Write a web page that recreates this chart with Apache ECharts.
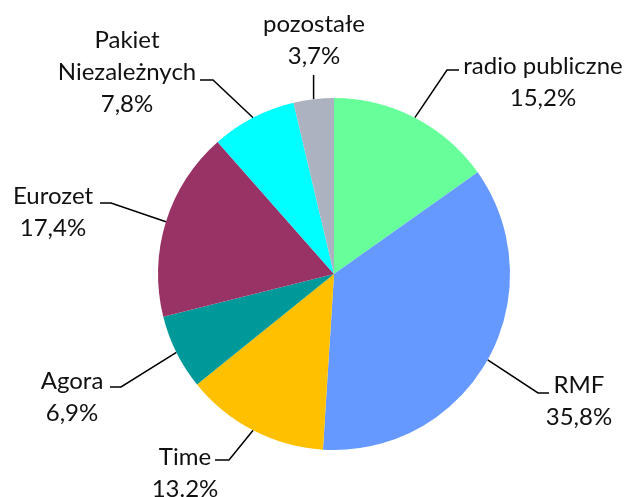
<!DOCTYPE html>
<html lang="pl">

<head>
  <meta charset="UTF-8">
  <title>pie</title>
  <script src="https://cdn.jsdelivr.net/npm/echarts@6/dist/echarts.min.js"></script>
  <style>
    * {
      padding: 0;
      margin: 0;
    }

    #box {
      width: 628px;
      height: 497px;
      background: #fff;
    }
  </style>
</head>

<body>
  <div id="box"></div>
  <script>
    // dane z wykresu
    var categories = ['radio publiczne', 'RMF', 'Time', 'Agora', 'Eurozet', 'Pakiet Niezależnych', 'pozostałe']
    var shares = [15.2, 35.8, 13.2, 6.9, 17.4, 7.8, 3.7]
    var shareLabels = ['15,2%', '35,8%', '13.2%', '6,9%', '17,4%', '7,8%', '3,7%']
    var colors = ['#66FF99', '#6699FF', '#FFC000', '#009999', '#993366', '#00FFFF', '#ADB2C0']

    // gdzie stoją podpisy: środek tekstu, góra bloku, koniec linii
    var spots = [
      { x: 543, y: 50, end: [459, 70], dx: -12 },
      { x: 579, y: 369, end: [549, 393], dx: -11 },
      { x: 185, y: 441, end: [215, 460], dx: 14 },
      { x: 72, y: 365, end: [110, 387], dx: 11 },
      { x: 53, y: 180, end: [100, 203], dx: 11 },
      { x: 127, y: 24, end: [200, 80], dx: 13 },
      { x: 314, y: 8, end: null, dx: 0 }
    ]

    var data = []
    for (let i = 0; i < categories.length; i++) {
      data.push({ name: categories[i], value: shares[i], itemStyle: { color: colors[i] } })
    }

    var mCharts = echarts.init(document.getElementById('box'))
    var option = {
      animation: false,
      textStyle: { fontFamily: 'Lato' },
      series: [{
        type: 'pie',
        center: [334, 274],
        radius: 176,
        startAngle: 90,
        clockwise: true,
        avoidLabelOverlap: false,
        data: data,
        label: {
          show: true,
          position: 'outside',
          color: '#111',
          fontFamily: 'Lato',
          fontSize: 24,
          lineHeight: 32,
          formatter: function (p) {
            var name = p.name === 'Pakiet Niezależnych' ? 'Pakiet\nNiezależnych' : p.name
            return name + '\n' + shareLabels[p.dataIndex]
          }
        },
        labelLine: {
          show: true,
          length: 20,
          length2: 10,
          lineStyle: { color: '#000', width: 1.5 }
        },
        labelLayout: function (params) {
          var s = spots[params.dataIndex]
          var p0 = params.labelLinePoints[0]
          var pts
          if (s.end) {
            pts = [p0, [s.end[0] + s.dx, s.end[1]], s.end]
          } else {
            pts = [p0, [p0[0], 75], [p0[0], 75]]
          }
          return {
            x: s.x,
            y: s.y,
            align: 'center',
            verticalAlign: 'top',
            labelLinePoints: pts
          }
        }
      }]
    }
    mCharts.setOption(option)
  </script>
</body>

</html>
